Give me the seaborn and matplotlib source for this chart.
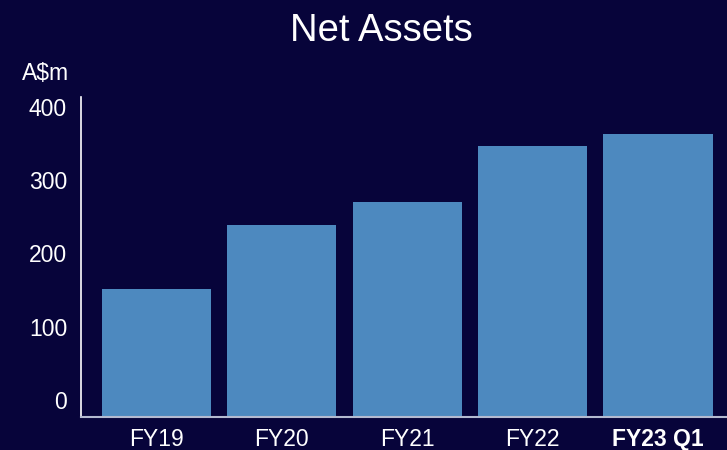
import matplotlib
matplotlib.use("Agg")
import matplotlib.pyplot as plt
import matplotlib.transforms as mtransforms
import seaborn as sns
import pandas as pd

categories = ["FY19", "FY20", "FY21", "FY22", "FY23 Q1"]
net_assets = [174, 261, 293, 369, 385]
y_ticks = [0, 100, 200, 300, 400]
y_tick_labels = ["0", "100", "200", "300", "400"]

BG = "#07043a"
BAR = "#4d89bf"

sns.set_theme(style="white")
plt.rcParams["font.family"] = ["Liberation Sans", "DejaVu Sans"]

df = pd.DataFrame({"period": categories, "value": net_assets})

fig = plt.figure(figsize=(7.27, 4.5), dpi=100)
fig.patch.set_facecolor(BG)
ax = fig.add_axes([81 / 727, (450 - 416.7) / 450, (727 - 81) / 727, (416.7 - 97) / 450])
ax.set_facecolor(BG)

sns.barplot(data=df, x="period", y="value", color=BAR, saturation=1, width=0.87,
            linewidth=0, edgecolor=BAR, ax=ax)

ax.set_xlim(-0.6, 4.55)
ax.set_ylim(0, 436)
ax.set_xlabel("")
ax.set_ylabel("")

for s in ["top", "right"]:
    ax.spines[s].set_visible(False)
ax.spines["left"].set_color("#ffffff")
ax.spines["left"].set_linewidth(1.2)
ax.spines["bottom"].set_color("#b4bad0")
ax.spines["bottom"].set_linewidth(1.5)

ax.set_yticks(y_ticks)
ax.set_yticklabels(y_tick_labels)
ax.tick_params(axis="both", length=0, colors="white", labelsize=16.5)
ax.tick_params(axis="y", pad=10)
ax.tick_params(axis="x", pad=8)

offset = mtransforms.ScaledTranslation(0, 16.7 / 100, fig.dpi_scale_trans)
for lab in ax.get_yticklabels():
    lab.set_transform(lab.get_transform() + offset)

for lab in ax.get_xticklabels():
    lab.set_color("white")
    if lab.get_text() == "FY23 Q1":
        lab.set_fontweight("bold")

fig.text(381 / 727, 1 - 31 / 450, "Net Assets", color="white", fontsize=27.5,
         ha="center", va="center")
fig.text(46 / 727, 1 - 73 / 450, "A$m", color="white", fontsize=16.5,
         ha="center", va="center")

fig.savefig("out.png", dpi=100, facecolor=BG)
